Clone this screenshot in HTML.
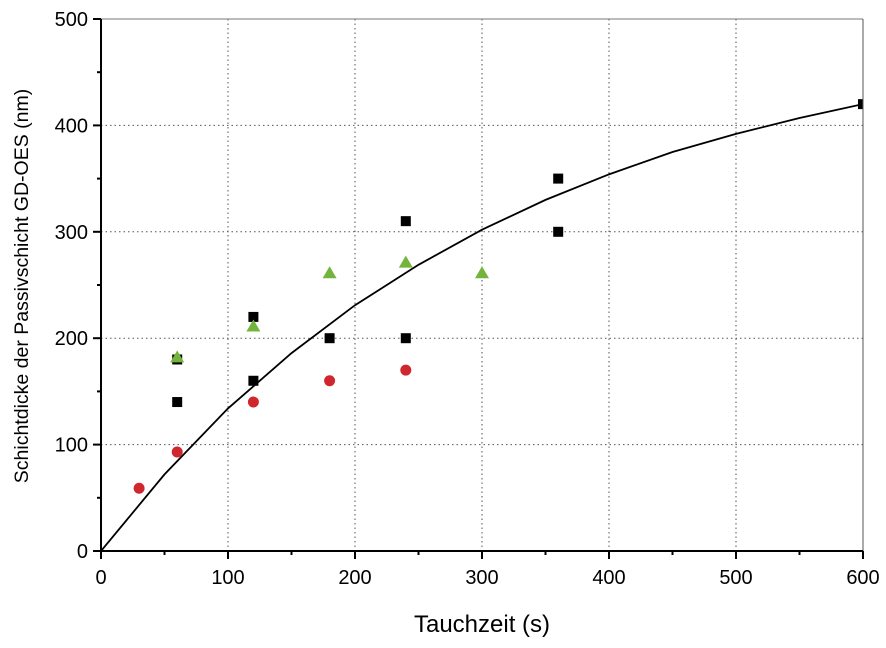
<!DOCTYPE html>
<html><head><meta charset="utf-8"><style>
body{margin:0;background:#fff}
text{font-family:"Liberation Sans",Arial,sans-serif;fill:#000}
</style></head><body>
<svg id="chart" width="886" height="643" xmlns="http://www.w3.org/2000/svg"><defs><clipPath id="pc"><rect x="101" y="19" width="762" height="532"/></clipPath></defs></svg>
<script>
const xTicks=[0,100,200,300,400,500,600];
const yTicks=[0,100,200,300,400,500];
const squareX=[60,60,120,120,180,240,240,360,360,600];
const squareY=[180,140,220,160,200,310,200,350,300,420];
const circleX=[30,60,120,180,240];
const circleY=[59,93,140,160,170];
const triX=[60,120,180,240,300];
const triY=[182,211,261,271,261];
const fitX=[0,50,100,150,200,250,300,350,400,450,500,550,600];
const fitY=[0,72,134,186,231,269,302,330,354,375,392,407,420];

const L=101,R=863,T=19,B=551;
const sx=v=>L+(v/600)*(R-L);
const sy=v=>B-(v/500)*(B-T);
const svg=document.getElementById('chart');
const NS='http://www.w3.org/2000/svg';
function mk(tag,attrs,name,parent){const e=document.createElementNS(NS,tag);for(const k in attrs)e.setAttribute(k,attrs[k]);


(parent||svg).appendChild(e);return e;}
xTicks.slice(1,-1).forEach(v=>mk('line',{x1:sx(v),x2:sx(v),y1:T,y2:B,stroke:'#555','stroke-dasharray':'1.5,3','stroke-width':1},'x-grid-line'));
yTicks.slice(1,-1).forEach(v=>mk('line',{x1:L,x2:R,y1:sy(v),y2:sy(v),stroke:'#555','stroke-dasharray':'1.5,3','stroke-width':1},'y-grid-line'));
const g=mk('g',{'clip-path':'url(#pc)'},'plot-area');
mk('path',{d:fitX.map((x,i)=>(i?'L':'M')+sx(x)+','+sy(fitY[i])).join(''),fill:'none',stroke:'#000','stroke-width':1.8},'fit-curve',g);
squareX.forEach((x,i)=>mk('rect',{x:sx(x)-5,y:sy(squareY[i])-5,width:10,height:10,fill:'#000'},'square-point',g));
circleX.forEach((x,i)=>mk('circle',{cx:sx(x),cy:sy(circleY[i]),r:5.5,fill:'#d0262d'},'circle-point',g));
triX.forEach((x,i)=>{const cx=sx(x),cy=sy(triY[i]);mk('polygon',{points:`${cx},${cy-7} ${cx-7},${cy+5} ${cx+7},${cy+5}`,fill:'#74b43c'},'triangle-point',g);});
mk('line',{x1:L,x2:R,y1:T,y2:T,stroke:'#777','stroke-width':1},'top-frame');
mk('line',{x1:R,x2:R,y1:T,y2:B,stroke:'#555','stroke-width':1},'right-frame');
mk('line',{x1:L,x2:L,y1:T,y2:B+1,stroke:'#000','stroke-width':2},'y-axis-line');
mk('line',{x1:L-1,x2:R,y1:B,y2:B,stroke:'#000','stroke-width':2},'x-axis-line');
for(let v=0;v<=600;v+=50){const maj=v%100===0;
mk('line',{x1:sx(v),x2:sx(v),y1:B,y2:B+(maj?8:4),stroke:'#000','stroke-width':2},'x-tick');
if(maj){const t=mk('text',{x:sx(v),y:B+33,'text-anchor':'middle','font-size':20},'x-tick-label');t.textContent=v;}}
for(let v=0;v<=500;v+=50){const maj=v%100===0;
mk('line',{x1:L,x2:L-(maj?8:4),y1:sy(v),y2:sy(v),stroke:'#000','stroke-width':2},'y-tick');
if(maj){const t=mk('text',{x:L-13,y:sy(v)+7,'text-anchor':'end','font-size':20},'y-tick-label');t.textContent=v;}}
const xt=mk('text',{x:482,y:632,'text-anchor':'middle','font-size':24},'x-axis-title');xt.textContent='Tauchzeit (s)';
const yt=mk('text',{x:0,y:0,'text-anchor':'middle','font-size':19.5,transform:'translate(28,286) rotate(-90)'},'y-axis-title');yt.textContent='Schichtdicke der Passivschicht GD-OES (nm)';
</script>
</body></html>
